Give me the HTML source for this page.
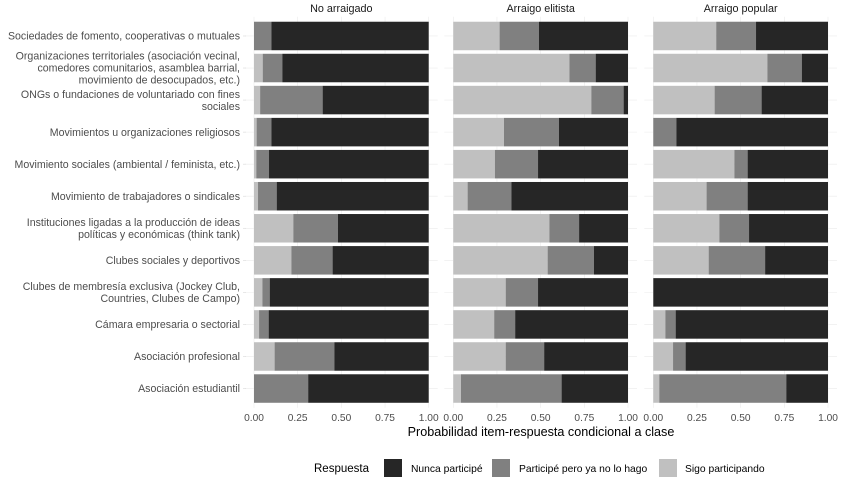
<!DOCTYPE html>
<html><head><meta charset="utf-8">
<style>
html,body{margin:0;padding:0;background:#fff;}
svg{display:block;font-family:"Liberation Sans",Arial,sans-serif;}
</style></head>
<body>
<svg id="chart" width="850" height="481" viewBox="0 0 850 481"></svg>
<script>
const categories = [
 ["Sociedades de fomento, cooperativas o mutuales"],
 ["Organizaciones territoriales (asociación vecinal,","comedores comunitarios, asamblea barrial,","movimiento de desocupados, etc.)"],
 ["ONGs o fundaciones de voluntariado con fines","sociales"],
 ["Movimientos u organizaciones religiosos"],
 ["Movimiento sociales (ambiental / feminista, etc.)"],
 ["Movimiento de trabajadores o sindicales"],
 ["Instituciones ligadas a la producción de ideas","políticas y económicas (think tank)"],
 ["Clubes sociales y deportivos"],
 ["Clubes de membresía exclusiva (Jockey Club,","Countries, Clubes de Campo)"],
 ["Cámara empresaria o sectorial"],
 ["Asociación profesional"],
 ["Asociación estudiantil"]
];
const panels = ["No arraigado","Arraigo elitista","Arraigo popular"];
// share "Sigo participando" per panel
const sigo = [
 [0,0.05,0.035,0.015,0.013,0.023,0.225,0.214,0.048,0.029,0.118,0],
 [0.265,0.665,0.79,0.29,0.238,0.082,0.55,0.54,0.30,0.234,0.30,0.044],
 [0.36,0.653,0.351,0,0.464,0.305,0.378,0.317,0,0.069,0.113,0.034]
];
// share "Participé pero ya no lo hago" per panel
const participe = [
 [0.10,0.112,0.358,0.085,0.073,0.107,0.255,0.236,0.042,0.055,0.342,0.31],
 [0.225,0.15,0.185,0.315,0.247,0.251,0.17,0.265,0.185,0.12,0.22,0.576],
 [0.228,0.197,0.269,0.132,0.076,0.235,0.17,0.323,0,0.059,0.072,0.727]
];
const ticks = [0,0.25,0.5,0.75,1];
const tickLabels = ["0.00","0.25","0.50","0.75","1.00"];

const NS="http://www.w3.org/2000/svg";
const svg=document.getElementById('chart');
function mk(tag,attrs,parent){const e=document.createElementNS(NS,tag);for(const k in attrs)e.setAttribute(k,attrs[k]);(parent||svg).appendChild(e);return e;}
const panelX=[254,453.3,653.3], panelW=174.7;
const top0=16.75, pitch=32.05, barH=28.5;
const yC=i=>top0+pitch*(0.6+i);
const plotBottom=top0+pitch*(12+0.2);
const colNunca="#262626", colPart="#808080", colSigo="#c0c0c0";

panels.forEach((p,pi)=>{
  const x0=panelX[pi];
  const xs=v=>x0+v*panelW;
  const g=mk('g',{});
  
  
  ticks.forEach(t=>{const l=mk('line',{x1:xs(t),x2:xs(t),y1:top0,y2:plotBottom,stroke:'#ebebeb','stroke-width':0.6},g);
    });
  categories.forEach((c,i)=>{const l=mk('line',{x1:x0-9,x2:x0+panelW+9,y1:yC(i),y2:yC(i),stroke:'#ebebeb','stroke-width':0.6},g);
    });
  const t=mk('text',{x:x0+panelW/2,y:12,'text-anchor':'middle','font-size':10.8,fill:'#1a1a1a'},g);
  t.textContent=p;
  
  categories.forEach((c,i)=>{
    const s=sigo[pi][i], pa=participe[pi][i];
    const y=yC(i)-barH/2;
    const r1=mk('rect',{x:xs(0),y:y,width:xs(s)-xs(0),height:barH,fill:colSigo},g);
    
    const r2=mk('rect',{x:xs(s),y:y,width:xs(s+pa)-xs(s),height:barH,fill:colPart},g);
    
    const r3=mk('rect',{x:xs(s+pa),y:y,width:xs(1)-xs(s+pa),height:barH,fill:colNunca},g);
    
  });
  ticks.forEach((tk,k)=>{
    const tl=mk('text',{x:xs(tk),y:421,'text-anchor':'middle','font-size':10.2,fill:'#4d4d4d'},g);
    tl.textContent=tickLabels[k];
    
  });
});
categories.forEach((c,i)=>{
  const n=c.length, lh=12;
  const t=mk('text',{x:240,'text-anchor':'end','font-size':10.6,fill:'#4d4d4d'});
  
  c.forEach((line,j)=>{const ts=mk('tspan',{x:240,y:yC(i)+3.7+(j-(n-1)/2)*lh},t);ts.textContent=line;});
  const tk=mk('line',{x1:243,x2:246,y1:yC(i),y2:yC(i),stroke:'#d9d9d9','stroke-width':0.6});
  
});
const at=mk('text',{x:541,y:436,'text-anchor':'middle','font-size':12.6,fill:'#000'});
at.textContent="Probabilidad item-respuesta condicional a clase";

const lg=mk('g',{});

const lt=mk('text',{x:314,y:472,'font-size':11.5,fill:'#000'},lg);lt.textContent="Respuesta";

const keys=[[384,411,colNunca,"Nunca participé"],[492,519,colPart,"Participé pero ya no lo hago"],[659,685,colSigo,"Sigo participando"]];
keys.forEach(k=>{
  const r=mk('rect',{x:k[0],y:459,width:18,height:18,fill:k[2]},lg);
  
  const t=mk('text',{x:k[1],y:472,'font-size':10.3,fill:'#000'},lg);t.textContent=k[3];
  
});
</script>
</body></html>
